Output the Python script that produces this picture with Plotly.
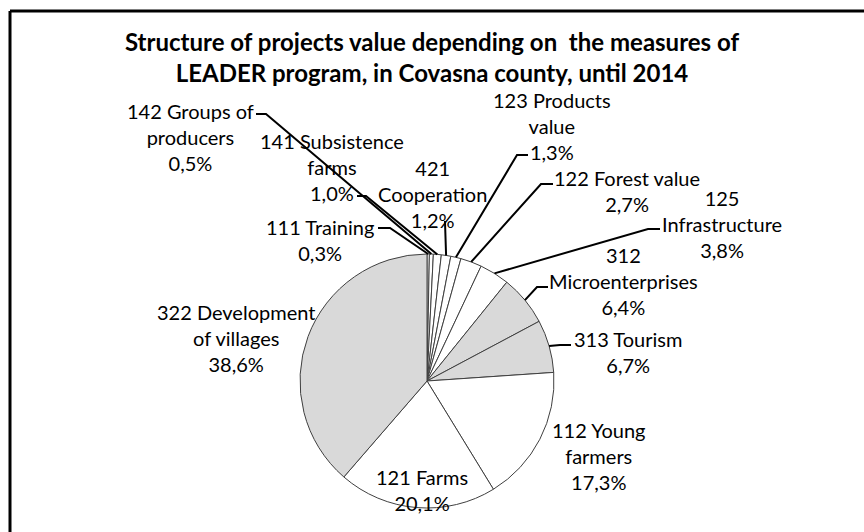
import math
import plotly.graph_objects as go

# measures of LEADER program, in clockwise order from 12 o'clock
measures = ['111 Training', '142 Groups of producers', '141 Subsistence farms',
            '421 Cooperation', '123 Products value', '122 Forest value',
            '125 Infrastructure', '312 Microenterprises', '313 Tourism',
            '112 Young farmers', '121 Farms', '322 Development of villages']
shares = [0.3, 0.5, 1.0, 1.2, 1.3, 2.7, 3.8, 6.4, 6.7, 17.3, 20.1, 38.6]
label_text = ['111 Training', '142 Groups of<br>producers', '141 Subsistence<br>farms',
              '421<br>Cooperation', '123 Products<br>value', '122 Forest value',
              '125<br>Infrastructure', '312<br>Microenterprises', '313 Tourism',
              '112 Young<br>farmers', '121 Farms', '322 Development<br>of villages']
grey_measures = ['312 Microenterprises', '313 Tourism', '322 Development of villages']

W, H = 864, 532
FONT = 'Lato'

# pie geometry in pixels
cx, cy, r = 427, 381, 127

# label block centres (px) and leader-line anchor/elbow (px), None = no leader
label_pos = [(320, 240), (190, 137), (332, 167), (432, 194), (552, 126), (627, 191),
             (722, 224), (623, 281), (628, 352), (598, 456), (422, 490), (236, 338)]
leaders = [[(378, 228), (390, 228)], [(256, 114), (266, 114)], [(357, 196), (366, 196)],
           [(445, 221), (445, 222)], [(528, 155), (517, 155)], [(553, 184), (541, 184)],
           [(660, 229), (648, 229)], [(548, 287), (537, 287)], [(571, 345), (560, 345)],
           None, None, None]


def px(x):
    return x / W


def py(y):
    return 1 - y / H


colors = ['#D9D9D9' if m in grey_measures else 'white' for m in measures]

fig = go.Figure(go.Pie(
    labels=measures,
    values=shares,
    sort=False,
    direction='clockwise',
    rotation=0,
    textinfo='none',
    hoverinfo='label+percent',
    marker=dict(colors=colors, line=dict(color='#404040', width=1)),
    domain=dict(x=[px(cx - r), px(cx + r)], y=[py(cy + r), py(cy - r)]),
    showlegend=False,
))

total = sum(shares)
cum = 0
shapes = []
annotations = []
for i, v in enumerate(shares):
    theta = 2 * math.pi * (cum + v / 2) / total
    cum += v
    ex = cx + r * math.sin(theta)
    ey = cy - r * math.cos(theta)
    pct = f'{v:.1f}'.replace('.', ',') + '%'
    lx, ly = label_pos[i]
    annotations.append(dict(
        x=px(lx), y=py(ly), xref='paper', yref='paper',
        text=f'{label_text[i]}<br>{pct}', showarrow=False,
        xanchor='center', yanchor='middle', align='center',
        font=dict(family=FONT, size=20, color='black'),
    ))
    if leaders[i]:
        (ax, ay), (bx, by) = leaders[i]
        path = f'M {px(ax)} {py(ay)} L {px(bx)} {py(by)} L {px(ex)} {py(ey)}'
        shapes.append(dict(type='path', xref='paper', yref='paper', path=path,
                           line=dict(color='black', width=2)))

# chart frame (left and top edges visible)
shapes.append(dict(type='line', xref='paper', yref='paper', x0=px(10), x1=px(10),
                   y0=py(11), y1=0, line=dict(color='black', width=3)))
shapes.append(dict(type='line', xref='paper', yref='paper', x0=px(10), x1=1,
                   y0=py(11), y1=py(11), line=dict(color='black', width=3)))

fig.update_layout(
    width=W, height=H,
    margin=dict(l=0, r=0, t=0, b=0),
    paper_bgcolor='white', plot_bgcolor='white',
    title=dict(
        text='<b>Structure of projects value depending on  the measures of<br>'
             'LEADER program, in Covasna county, until 2014</b>',
        x=0.5, xanchor='center', y=py(51), yanchor='middle',
        font=dict(family=FONT, size=24, color='black'),
    ),
    shapes=shapes,
    annotations=annotations,
)

# drop the browser's default body margin so the figure fills the window
fig.write_html('out.html', config={'displayModeBar': False},
               post_script="document.body.style.margin='0';")
